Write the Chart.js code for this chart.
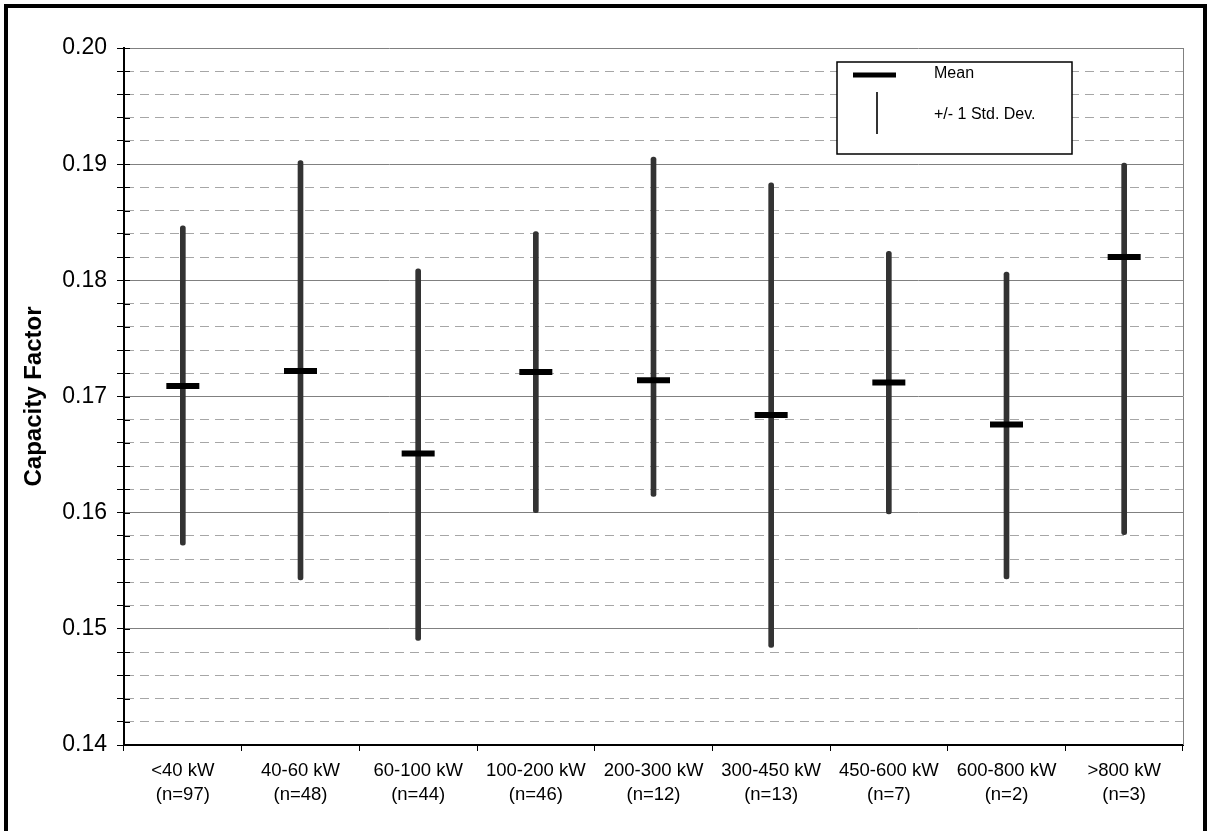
<!DOCTYPE html>
<html>
<head>
<meta charset="utf-8">
<script src="https://cdn.jsdelivr.net/npm/chart.js@4"></script>
<style>
  html, body { margin: 0; padding: 0; background: #fff; }
  canvas { display: block; }
</style>
</head>
<body>
<canvas id="cf-chart" width="1209" height="831"></canvas>
<script>
const categories = [
  '<40 kW', '40-60 kW', '60-100 kW', '100-200 kW', '200-300 kW',
  '300-450 kW', '450-600 kW', '600-800 kW', '>800 kW',
];
const counts = [97, 48, 44, 46, 12, 13, 7, 2, 3];

// mean and the ends of the +/- 1 std. dev. bars
const means = [0.1709, 0.1722, 0.1651, 0.1721, 0.1714, 0.1684, 0.1712, 0.1676, 0.1820];
const highs = [0.1847, 0.1903, 0.1810, 0.1842, 0.1906, 0.1884, 0.1825, 0.1807, 0.1901];
const lows  = [0.1572, 0.1542, 0.1490, 0.1600, 0.1614, 0.1484, 0.1599, 0.1543, 0.1581];

const legendLabels = ['Mean', '+/- 1 Std. Dev.'];

const FONT = '"Liberation Sans", Arial, Helvetica, sans-serif';

const isMajor = (v) => Math.abs(v * 100 - Math.round(v * 100)) < 1e-6;

const frame = {
  id: 'frame',
  beforeDraw(chart) {
    const c = chart.ctx;
    c.save();
    c.fillStyle = '#fff';
    c.fillRect(0, 0, chart.width, chart.height);
    c.restore();
  },
  afterDraw(chart) {
    const c = chart.ctx;
    const area = chart.chartArea;
    const y = chart.scales.y;
    c.save();

    // right edge of plot area
    c.strokeStyle = '#808080';
    c.lineWidth = 1;
    c.beginPath();
    c.moveTo(area.right + 0.5, area.top);
    c.lineTo(area.right + 0.5, area.bottom);
    c.stroke();

    // y ticks cross the axis a little
    c.strokeStyle = '#000';
    y.ticks.forEach((t) => {
      const py = Math.round(y.getPixelForValue(t.value)) + 0.5;
      c.beginPath();
      c.moveTo(area.left, py);
      c.lineTo(area.left + 6, py);
      c.stroke();
    });

    // legend box
    const bx = 837, by = 62, bw = 235, bh = 92;
    c.fillStyle = '#fff';
    c.fillRect(bx, by, bw, bh);
    c.strokeStyle = '#000';
    c.lineWidth = 1.5;
    c.strokeRect(bx, by, bw, bh);

    c.lineWidth = 5;
    c.beginPath();
    c.moveTo(853, 75);
    c.lineTo(896, 75);
    c.stroke();

    c.strokeStyle = '#333';
    c.lineWidth = 2;
    c.beginPath();
    c.moveTo(877, 92);
    c.lineTo(877, 134);
    c.stroke();

    c.fillStyle = '#000';
    c.font = '16px ' + FONT;
    c.textAlign = 'left';
    c.textBaseline = 'middle';
    c.fillText(legendLabels[0], 934, 74);
    c.fillText(legendLabels[1], 934, 115);

    // outer frame
    c.strokeStyle = '#000';
    c.lineWidth = 4;
    c.strokeRect(6, 6, 1199, 900);
    c.restore();
  },
};

const data = {
  labels: categories.map((cat, i) => [cat, '(n=' + counts[i] + ')']),
  datasets: [
    {
      type: 'line',
      label: legendLabels[0],
      data: means,
      showLine: false,
      pointStyle: 'line',
      pointRadius: 16.5,
      pointHoverRadius: 16.5,
      pointBorderWidth: 6,
      pointHoverBorderWidth: 6,
      pointBorderColor: '#000',
      borderColor: '#000',
      order: 0,
    },
    {
      type: 'bar',
      label: legendLabels[1],
      data: lows.map((lo, i) => [lo, highs[i]]),
      backgroundColor: '#333',
      barThickness: 5,
      borderRadius: 2.5,
      borderSkipped: false,
      order: 1,
    },
  ],
};

const config = {
  type: 'bar',
  data: data,
  options: {
    responsive: false,
    animation: false,
    layout: {
      padding: { left: 0, top: 48, right: 26, bottom: 0 },
    },
    scales: {
      x: {
        grid: {
          offset: true,
          drawOnChartArea: false,
          drawTicks: true,
          tickLength: 6,
          tickColor: '#000',
        },
        border: { color: '#000', width: 2 },
        ticks: {
          color: '#000',
          font: { family: FONT, size: 18.5, lineHeight: 1.3 },
          maxRotation: 0,
          autoSkip: false,
          padding: 8,
        },
        afterFit(scale) { scale.height = 86; },
      },
      y: {
        min: 0.14,
        max: 0.20,
        grid: {
          color: (ctx) => (ctx.tick && !isMajor(ctx.tick.value) ? '#a6a6a6' : '#808080'),
          lineWidth: 1,
          tickLength: 7,
          tickColor: '#000',
        },
        border: {
          color: '#000',
          width: 2,
          dash: (ctx) => (ctx.tick && !isMajor(ctx.tick.value) ? [9, 6] : []),
        },
        ticks: {
          stepSize: 0.002,
          autoSkip: false,
          color: '#000',
          padding: 10,
          font: { family: FONT, size: 23 },
          callback: (v) => (isMajor(v) ? v.toFixed(2) : ''),
        },
        title: {
          display: true,
          text: 'Capacity Factor',
          color: '#000',
          font: { family: FONT, size: 24, weight: 'bold', lineHeight: 1.2 },
          padding: { top: 20, bottom: 0 },
        },
        afterFit(scale) { scale.width = 124; },
      },
    },
    plugins: {
      legend: { display: false },
      tooltip: { enabled: false },
    },
  },
  plugins: [frame],
};

new Chart(document.getElementById('cf-chart'), config);
</script>
</body>
</html>
